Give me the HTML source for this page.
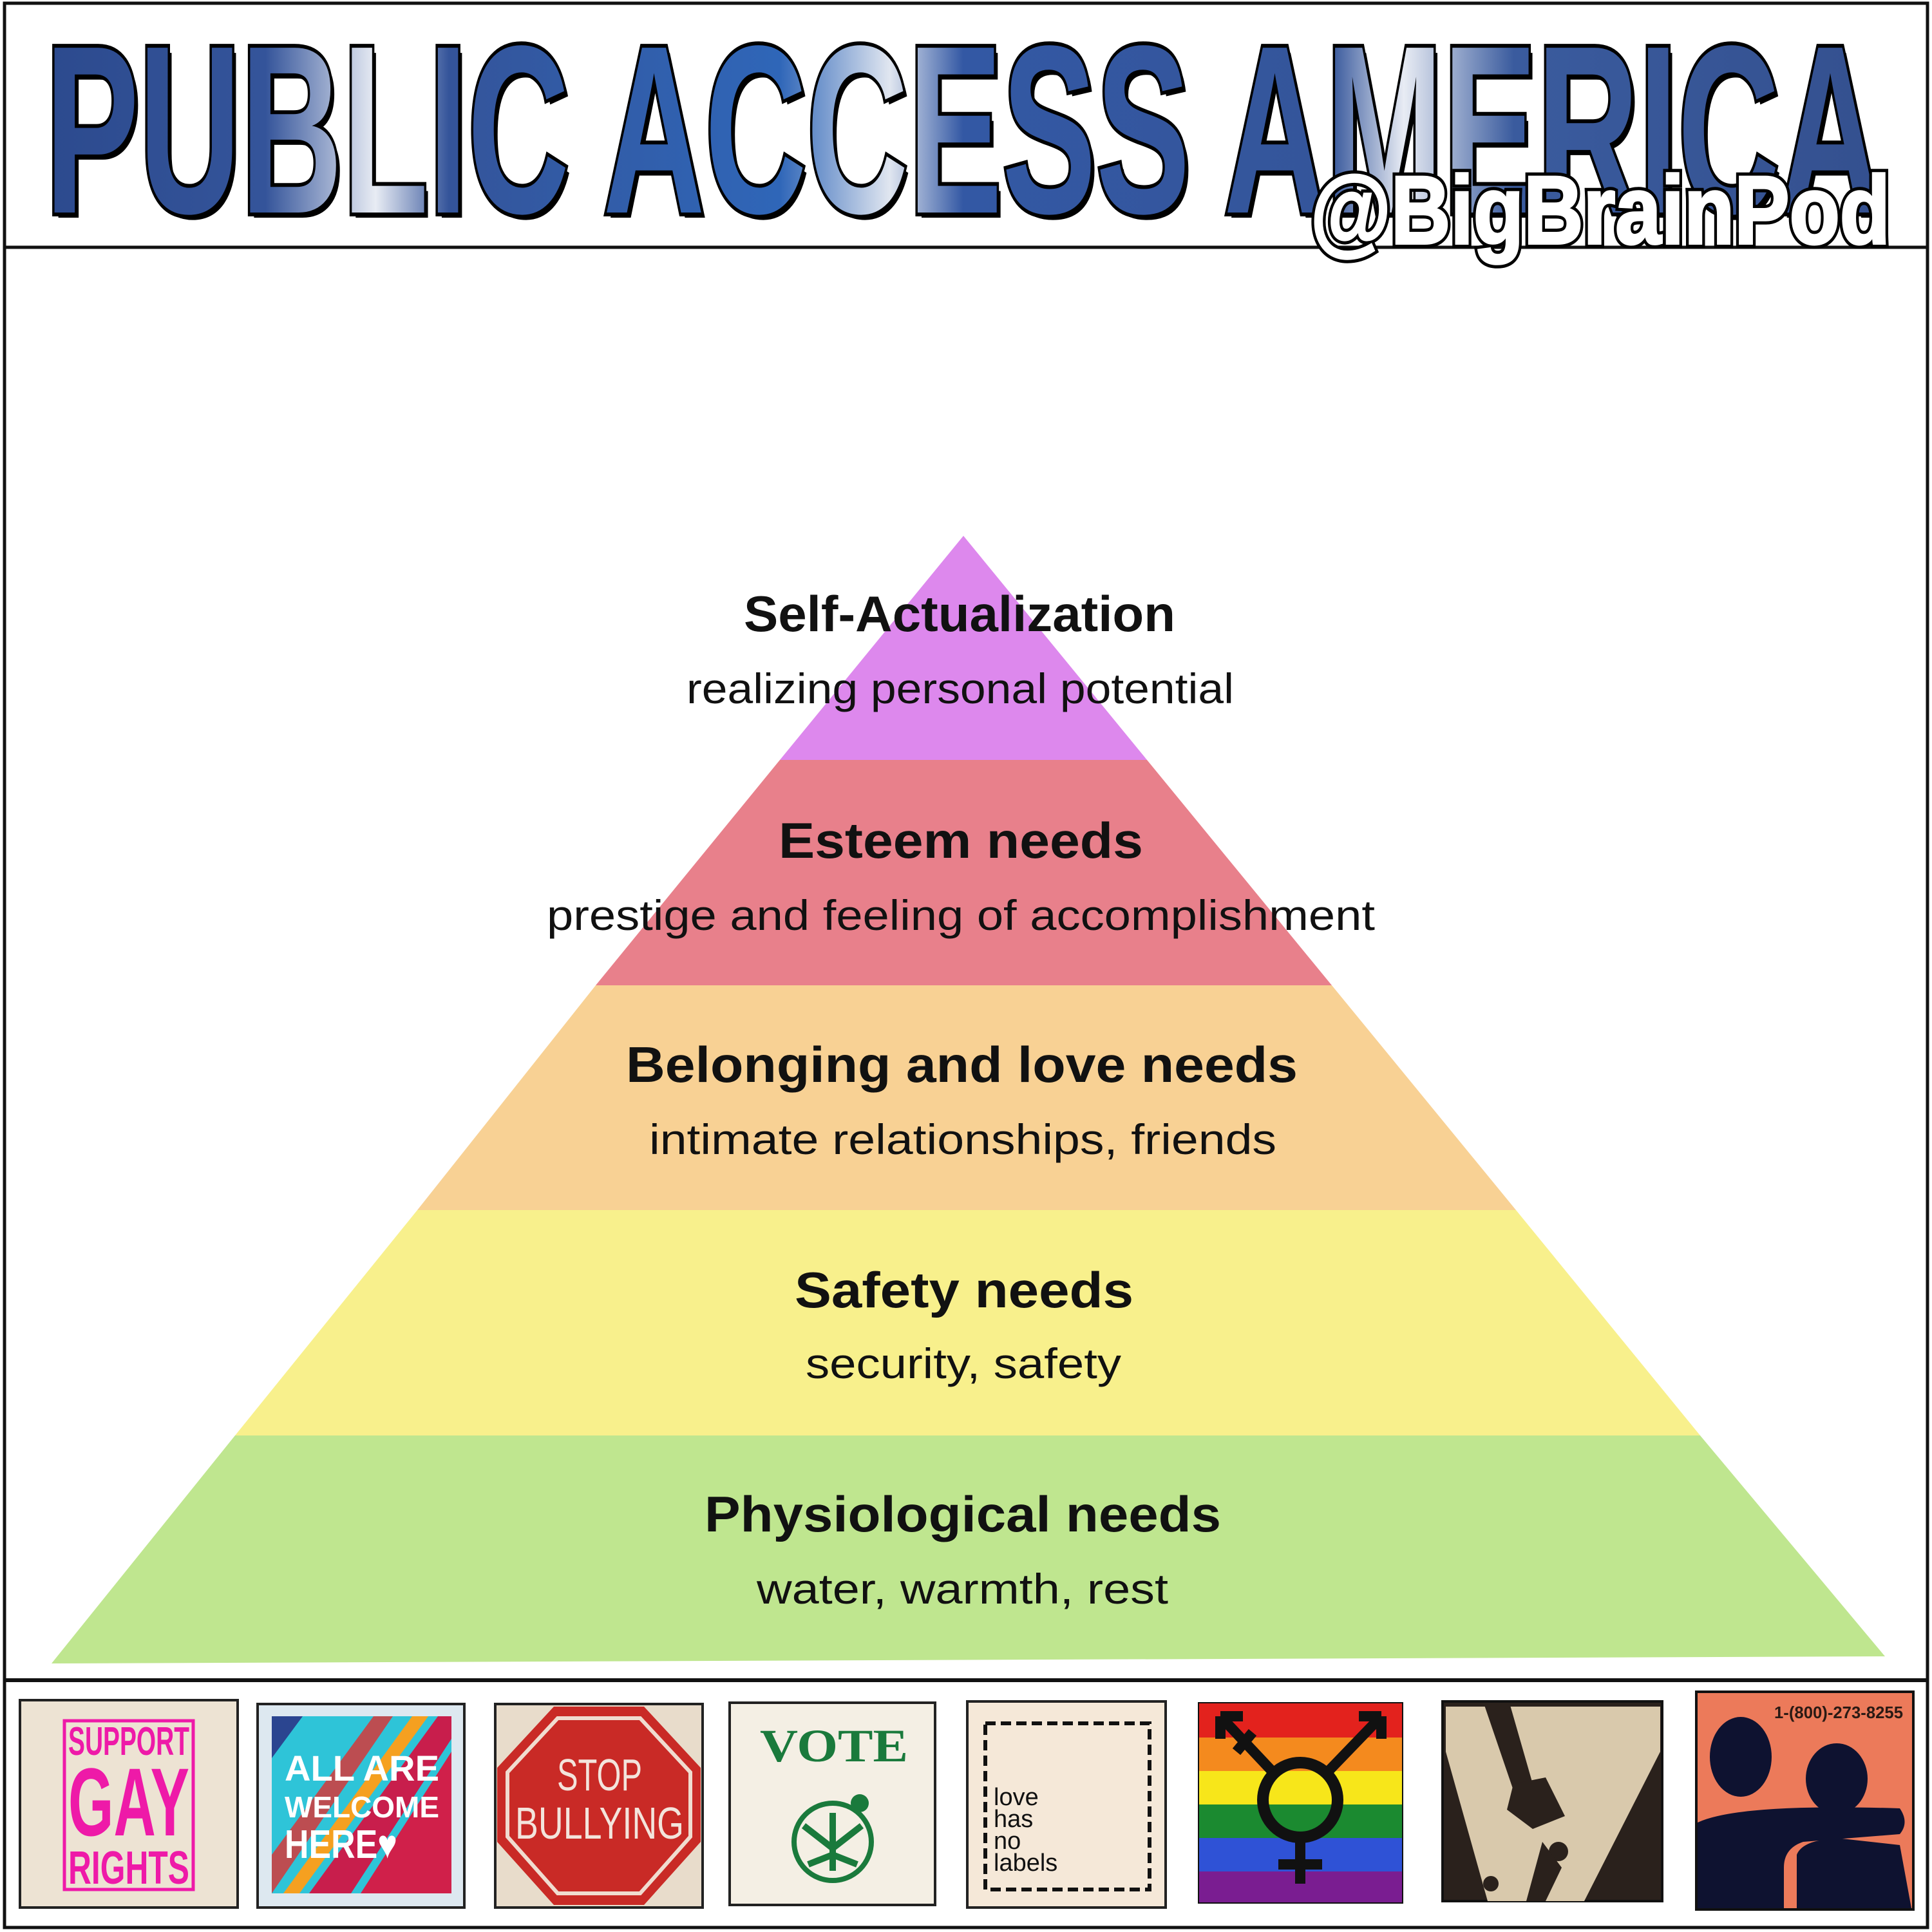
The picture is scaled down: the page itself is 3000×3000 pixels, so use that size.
<!DOCTYPE html>
<html><head><meta charset="utf-8"><style>
html,body{margin:0;padding:0;background:#fff;width:3000px;height:3000px;overflow:hidden}
svg{display:block}
</style></head><body>
<svg width="3000" height="3000" viewBox="0 0 3000 3000" xmlns="http://www.w3.org/2000/svg">
<defs>
<linearGradient id="tg" x1="0" y1="0" x2="1" y2="0">
<stop offset="0" stop-color="#2c4a8e"/><stop offset="0.12" stop-color="#34549a"/><stop offset="0.18" stop-color="#e8ecf4"/><stop offset="0.22" stop-color="#34549a"/><stop offset="0.4" stop-color="#2f66b8"/><stop offset="0.46" stop-color="#e0e6f0"/><stop offset="0.5" stop-color="#3358a4"/><stop offset="0.7" stop-color="#34559a"/><stop offset="0.74" stop-color="#e8ecf4"/><stop offset="0.8" stop-color="#3a5b9e"/><stop offset="1" stop-color="#34508f"/>
</linearGradient>
</defs>
<rect x="0" y="0" width="3000" height="3000" fill="#fff"/>
<rect x="7" y="5" width="2986" height="2988" fill="none" stroke="#111" stroke-width="5"/>
<line x1="7" y1="384" x2="2993" y2="384" stroke="#111" stroke-width="5"/>
<line x1="7" y1="2609" x2="2993" y2="2609" stroke="#111" stroke-width="6"/>

<text x="76" y="338" font-family="Liberation Sans, sans-serif" font-weight="bold" font-size="372" textLength="2851" lengthAdjust="spacingAndGlyphs" fill="#000">PUBLIC ACCESS AMERICA</text>
<text x="70" y="330" font-family="Liberation Sans, sans-serif" font-weight="bold" font-size="372" textLength="2851" lengthAdjust="spacingAndGlyphs" fill="url(#tg)" stroke="#000" stroke-width="12" paint-order="stroke">PUBLIC ACCESS AMERICA</text>
<text x="2035" y="378" font-family="Liberation Sans, sans-serif" font-weight="bold" font-size="150" textLength="900" lengthAdjust="spacingAndGlyphs" fill="#fff" stroke="#000" stroke-width="14" paint-order="stroke">@BigBrainPod</text>
<text x="2035" y="378" font-family="Liberation Sans, sans-serif" font-weight="bold" font-size="150" textLength="900" lengthAdjust="spacingAndGlyphs" fill="#fff" stroke="#fff" stroke-width="4" paint-order="stroke">@BigBrainPod</text>

<polygon points="1496,832 1781,1180 1211,1180" fill="#dd88ed"/>
<polygon points="1211,1180 1781,1180 2068,1530 925,1530" fill="#e8808b"/>
<polygon points="925,1530 2068,1530 2354,1879 648,1879" fill="#f8d194"/>
<polygon points="648,1879 2354,1879 2640,2229 365,2229" fill="#f8f08c"/>
<polygon points="365,2229 2640,2229 2927,2572 80,2583" fill="#bfe68f"/>

<g font-family="Liberation Sans, DejaVu Sans, sans-serif" fill="#111">
<text x="1155" y="980" font-weight="bold" font-size="78" textLength="670" lengthAdjust="spacingAndGlyphs">Self-Actualization</text>
<text x="1066" y="1092" font-size="66" textLength="850" lengthAdjust="spacingAndGlyphs">realizing personal potential</text>
<text x="1209" y="1332" font-weight="bold" font-size="78" textLength="566" lengthAdjust="spacingAndGlyphs">Esteem needs</text>
<text x="849" y="1444" font-size="66" textLength="1286" lengthAdjust="spacingAndGlyphs">prestige and feeling of accomplishment</text>
<text x="972" y="1680" font-weight="bold" font-size="78" textLength="1043" lengthAdjust="spacingAndGlyphs">Belonging and love needs</text>
<text x="1008" y="1792" font-size="66" textLength="974" lengthAdjust="spacingAndGlyphs">intimate relationships, friends</text>
<text x="1234" y="2030" font-weight="bold" font-size="78" textLength="526" lengthAdjust="spacingAndGlyphs">Safety needs</text>
<text x="1251" y="2140" font-size="66" textLength="490" lengthAdjust="spacingAndGlyphs">security, safety</text>
<text x="1094" y="2378" font-weight="bold" font-size="78" textLength="802" lengthAdjust="spacingAndGlyphs">Physiological needs</text>
<text x="1175" y="2490" font-size="66" textLength="639" lengthAdjust="spacingAndGlyphs">water, warmth, rest</text>
</g>

<rect x="31" y="2640" width="338" height="322" fill="#ede3d3" stroke="#222" stroke-width="4"/>
<rect x="100" y="2672" width="200" height="262" fill="none" stroke="#ee1aa8" stroke-width="5"/>
<g font-family="Liberation Sans, sans-serif" font-weight="bold" fill="#ee1aa8">
<text x="106" y="2725" font-size="62" textLength="188" lengthAdjust="spacingAndGlyphs">SUPPORT</text>
<text x="106" y="2850" font-size="150" textLength="188" lengthAdjust="spacingAndGlyphs">GAY</text>
<text x="106" y="2925" font-size="72" textLength="188" lengthAdjust="spacingAndGlyphs">RIGHTS</text>
</g>
<rect x="400" y="2646" width="321" height="316" fill="#dde8f0" stroke="#222" stroke-width="4"/>
<rect x="422" y="2665" width="279" height="275" fill="#2ec4d8"/>
<polygon points="560,2940 701,2720 701,2940" fill="#d0204a"/>
<polygon points="480,2940 680,2665 701,2665 701,2700 545,2940" fill="#c81e4c"/>
<polygon points="440,2940 640,2665 665,2665 465,2940" fill="#f5a020"/>
<polygon points="422,2940 422,2880 580,2665 610,2665" fill="#e03030" opacity="0.8"/>
<polygon points="422,2665 470,2665 422,2730" fill="#2b4590"/>
<g font-family="Liberation Sans, sans-serif" font-weight="bold" fill="#fff">
<text x="442" y="2765" font-size="56" textLength="240" lengthAdjust="spacingAndGlyphs">ALL ARE</text>
<text x="442" y="2822" font-size="46" textLength="240" lengthAdjust="spacingAndGlyphs">WELCOME</text>
<text x="442" y="2885" font-size="62" textLength="175" lengthAdjust="spacingAndGlyphs">HERE♥</text>
</g>
<rect x="769" y="2646" width="322" height="316" fill="#e8dccb" stroke="#222" stroke-width="4"/>
<polygon points="860,2650 1000,2650 1088,2745 1088,2860 1000,2958 860,2958 772,2860 772,2745" fill="#c92a26"/>
<polygon points="866,2668 994,2668 1072,2752 1072,2852 994,2940 866,2940 788,2852 788,2752" fill="none" stroke="#f0dcd0" stroke-width="6"/>
<g font-family="Liberation Sans, sans-serif" fill="#f3e4dc">
<text x="865" y="2780" font-size="70" textLength="132" lengthAdjust="spacingAndGlyphs">STOP</text>
<text x="800" y="2855" font-size="70" textLength="262" lengthAdjust="spacingAndGlyphs">BULLYING</text>
</g>
<rect x="1133" y="2644" width="319" height="314" fill="#f4efe4" stroke="#222" stroke-width="4"/>
<text x="1180" y="2735" font-family="Liberation Serif, serif" font-weight="bold" font-size="72" textLength="230" lengthAdjust="spacingAndGlyphs" fill="#1a7a3c">VOTE</text>
<circle cx="1293" cy="2860" r="60" fill="none" stroke="#1a7a3c" stroke-width="8"/>
<path d="M1293 2905 L1293 2815 M1293 2870 L1248 2835 M1293 2870 L1338 2835 M1293 2880 L1255 2895 M1293 2880 L1331 2895" stroke="#1a7a3c" stroke-width="10" fill="none"/>
<circle cx="1335" cy="2800" r="14" fill="#1a7a3c"/>
<rect x="1502" y="2642" width="308" height="320" fill="#f5e8d8" stroke="#222" stroke-width="4"/>
<rect x="1530" y="2676" width="255" height="258" fill="none" stroke="#111" stroke-width="6" stroke-dasharray="16,8"/>
<g font-family="Liberation Sans, sans-serif" fill="#111" font-size="38">
<text x="1543" y="2803">love</text><text x="1543" y="2837">has</text><text x="1543" y="2871">no</text><text x="1543" y="2905">labels</text>
</g>
<rect x="1860" y="2643" width="319" height="313" fill="#111"/>
<rect x="1862" y="2645" width="315" height="53" fill="#e3221d"/>
<rect x="1862" y="2698" width="315" height="52" fill="#f48a1e"/>
<rect x="1862" y="2750" width="315" height="52" fill="#f7e61a"/>
<rect x="1862" y="2802" width="315" height="52" fill="#1b8a30"/>
<rect x="1862" y="2854" width="315" height="52" fill="#2f52d6"/>
<rect x="1862" y="2906" width="315" height="48" fill="#7a1d91"/>
<circle cx="2019" cy="2795" r="58" fill="none" stroke="#111" stroke-width="18"/>
<path d="M2019 2853 L2019 2925 M1985 2895 L2053 2895 M1975 2750 L1895 2665 M2063 2750 L2145 2665 M1895 2665 L1895 2700 M1895 2665 L1930 2665 M2145 2665 L2110 2665 M2145 2665 L2145 2700 M1920 2720 L1945 2690" stroke="#111" stroke-width="16" fill="none"/>
<rect x="2240" y="2642" width="341" height="310" fill="#2a211c" stroke="#111" stroke-width="4"/>
<polygon points="2245,2650 2578,2650 2578,2720 2460,2952 2310,2952 2245,2720" fill="#d9c9ac"/>
<polygon points="2305,2648 2345,2648 2380,2770 2350,2780" fill="#2a211c"/>
<polygon points="2350,2770 2400,2760 2430,2820 2380,2840 2340,2810" fill="#2a211c"/>
<circle cx="2420" cy="2875" r="15" fill="#2a211c"/>
<polygon points="2395,2860 2425,2900 2400,2952 2370,2952" fill="#2a211c"/>
<circle cx="2315" cy="2925" r="12" fill="#2a211c"/>
<rect x="2634" y="2627" width="337" height="338" fill="#ec7a5a" stroke="#111" stroke-width="4"/>
<text x="2755" y="2668" font-family="Liberation Sans, sans-serif" font-weight="bold" font-size="26" textLength="200" lengthAdjust="spacingAndGlyphs" fill="#2a1a14">1-(800)-273-8255</text>
<ellipse cx="2703" cy="2728" rx="48" ry="62" fill="#0e1230"/>
<ellipse cx="2852" cy="2762" rx="48" ry="55" fill="#0e1230"/>
<path d="M2636 2830 Q2700 2800 2950 2808 Q2965 2830 2950 2848 L2800 2860 Q2770 2870 2770 2900 L2770 2963 L2636 2963 Z" fill="#0e1230"/>
<path d="M2790 2880 Q2800 2855 2860 2855 L2950 2865 L2968 2963 L2790 2963 Z" fill="#0e1230"/>
</svg>
</body></html>
